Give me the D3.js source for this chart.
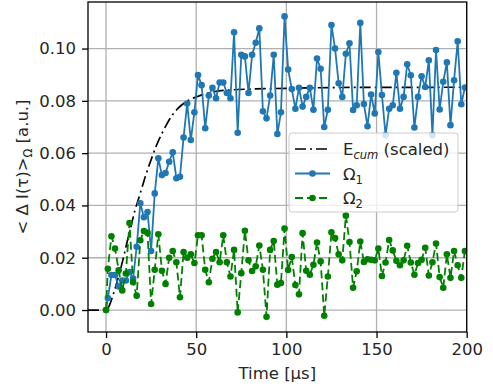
<!DOCTYPE html>
<html><head><meta charset="utf-8">
<script src="https://cdn.jsdelivr.net/npm/d3@7"></script>
<style>
body{margin:0;background:#fff}
svg{display:block}
text{font-family:"DejaVu Sans",sans-serif;fill:#262626}
</style>
</head><body>
<svg id="chart" width="493" height="391"></svg>
<script>
// ---- data ----
const times = [0].concat(d3.range(1, 200, 2)); // 0, 1, 3, ..., 199 µs
const omega1 = [0, 0.0046, 0.0134, 0.0134, 0.0090, 0.0113, 0.0113, 0.0145, 0.0120, 0.0242,
  0.0408, 0.0355, 0.0375, 0.0226, 0.0446, 0.0580, 0.0516, 0.0524, 0.0567, 0.0603,
  0.0504, 0.0510, 0.0660, 0.0790, 0.0650, 0.0756, 0.0899, 0.0860, 0.0695, 0.0820,
  0.0850, 0.0810, 0.0870, 0.0870, 0.0830, 0.0810, 0.1062, 0.0678, 0.0976, 0.0970,
  0.0830, 0.0976, 0.1022, 0.1077, 0.0760, 0.0733, 0.0820, 0.0976, 0.0673, 0.0756,
  0.1123, 0.0920, 0.0845, 0.0770, 0.0850, 0.0778, 0.0815, 0.0850, 0.0766, 0.0962,
  0.0923, 0.0700, 0.0766, 0.1090, 0.1000, 0.0867, 0.0815, 0.0980, 0.1020, 0.0765,
  0.0783, 0.1098, 0.0788, 0.0703, 0.0824, 0.0752, 0.0987, 0.0822, 0.0669, 0.0770,
  0.0783, 0.0907, 0.0770, 0.0815, 0.0940, 0.0898, 0.0698, 0.0815, 0.0894, 0.0853,
  0.0955, 0.0669, 0.0994, 0.0767, 0.0873, 0.0947, 0.0707, 0.0879, 0.1028, 0.0787,
  0.0851];
const omega2 = [0, 0.0158, 0.0282, 0.0235, 0.0152, 0.0075, 0.0140, 0.0333, 0.0106, 0.0055,
  0.0267, 0.0302, 0.0295, 0.0023, 0.0154, 0.0290, 0.0150, 0.0100, 0.0200, 0.0226,
  0.0183, 0.0049, 0.0222, 0.0200, 0.0213, 0.0180, 0.0286, 0.0286, 0.0154, 0.0106,
  0.0196, 0.0222, 0.0183, 0.0286, 0.0183, 0.0128, 0.0230, -0.0009, 0.0141, 0.0303,
  0.0190, 0.0149, 0.0167, 0.0247, 0.0154, -0.0026, 0.0230, 0.0264, 0.0097, 0.0103,
  0.0312, 0.0153, 0.0203, 0.0096, 0.0060, 0.0294, 0.0150, 0.0135, 0.0173, 0.0258,
  0.0186, -0.0022, 0.0128, 0.0297, 0.0275, 0.0213, 0.0190, 0.0361, 0.0260, 0.0085,
  0.0148, 0.0262, 0.0184, 0.0194, 0.0192, 0.0190, 0.0235, 0.0130, 0.0182, 0.0268,
  0.0228, 0.0188, 0.0171, 0.0190, 0.0246, 0.0182, 0.0135, 0.0180, 0.0192, 0.0238,
  0.0132, 0.0183, 0.0254, 0.0126, 0.0085, 0.0213, 0.0123, 0.0226, 0.0171, 0.0123,
  0.0226];
const ecumTimes = [-10, 0, 2, 4, 6, 8, 10, 12, 14, 16, 18, 20, 22, 25, 28, 31, 34, 37, 40, 43, 46, 50, 55, 60, 70, 80, 100, 130, 200];
const ecumValues = [0, 0, 0.002, 0.006, 0.0105, 0.0155, 0.021, 0.027, 0.0325, 0.038, 0.0425, 0.047, 0.0515, 0.0575, 0.063, 0.0675, 0.0715, 0.0748, 0.0772, 0.079, 0.0803, 0.0815, 0.0827, 0.0835, 0.0842, 0.0845, 0.0848, 0.0851, 0.0852];
const xTicks = [0, 50, 100, 150, 200];
const yTicks = [0, 0.02, 0.04, 0.06, 0.08, 0.10];
const yTickLabels = ["0.00", "0.02", "0.04", "0.06", "0.08", "0.10"];

// ---- layout ----
const L = 88, R = 466.7, T = 2, B = 332;
const svg = d3.select("#chart");
const x = d3.scaleLinear().domain([-10, 200]).range([L, R]);
const y = d3.scaleLinear().domain([-0.0084, 0.1178]).range([B, T]);
const FS = 16.5;

// grid
const grid = svg.append("g");
grid.selectAll("line.gx").data(xTicks).join("line")
  .attr("x1", d => x(d)).attr("x2", d => x(d)).attr("y1", T).attr("y2", B)
  .attr("stroke", "#b0b0b0").attr("stroke-width", 1.3);
grid.selectAll("line.gy").data(yTicks).join("line")
  .attr("y1", d => y(d)).attr("y2", d => y(d)).attr("x1", L).attr("x2", R)
  .attr("stroke", "#b0b0b0").attr("stroke-width", 1.3);

// clip
svg.append("clipPath").attr("id", "clip").append("rect")
  .attr("x", L).attr("y", T).attr("width", R - L).attr("height", B - T);
const plot = svg.append("g").attr("clip-path", "url(#clip)");

// E_cum
const ecum = ecumTimes.map((t, i) => [t, ecumValues[i]]);
plot.append("path").datum(ecum)
  .attr("d", d3.line().x(d => x(d[0])).y(d => y(d[1])).curve(d3.curveMonotoneX))
  .attr("fill", "none").attr("stroke", "#000").attr("stroke-width", 1.7)
  .attr("stroke-dasharray", "11,4,2,4");

function series(vals, color, dash) {
  const pts = times.map((t, i) => [t, vals[i]]);
  const g = plot.append("g");
  g.append("path").datum(pts)
    .attr("d", d3.line().x(d => x(d[0])).y(d => y(d[1])))
    .attr("fill", "none").attr("stroke", color).attr("stroke-width", 1.8)
    .attr("stroke-linejoin", "round")
    .attr("stroke-dasharray", dash);
  g.selectAll("circle").data(pts).join("circle")
    .attr("cx", d => x(d[0])).attr("cy", d => y(d[1])).attr("r", 3.3)
    .attr("fill", color);
}
series(omega1, "#1f77b4", null);
series(omega2, "#008000", "8,4");

// spines
svg.append("rect").attr("x", L).attr("y", T).attr("width", R - L).attr("height", B - T)
  .attr("fill", "none").attr("stroke", "#000").attr("stroke-width", 1.3);

// axes
const xAxis = svg.append("g").attr("transform", `translate(0,${B})`)
  .call(d3.axisBottom(x).tickValues(xTicks).tickSize(6).tickPadding(5).tickFormat(d3.format("d")));
const yAxis = svg.append("g").attr("transform", `translate(${L},0)`)
  .call(d3.axisLeft(y).tickValues(yTicks).tickSize(6).tickPadding(6).tickFormat((d, i) => yTickLabels[i]));
[xAxis, yAxis].forEach(a => {
  a.select(".domain").remove();
  a.selectAll(".tick line").attr("stroke", "#000").attr("stroke-width", 1.3);
  a.selectAll(".tick text").attr("font-size", FS).attr("font-family", "DejaVu Sans").attr("fill", "#262626");
});

// axis labels
svg.append("text").attr("x", (L + R) / 2).attr("y", 379).attr("text-anchor", "middle")
  .attr("font-size", FS).text("Time [µs]");
const yl = svg.append("text").attr("transform", `translate(28,${(T + B) / 2}) rotate(-90)`)
  .attr("text-anchor", "middle").attr("font-size", FS);
yl.append("tspan").text("< Δ I(τ)>");
yl.append("tspan").attr("font-size", FS * 0.7).attr("dy", 4).text("Ω");
yl.append("tspan").attr("dy", -4).text(" [a.u.]");

// legend
const lg = svg.append("g");
lg.append("rect").attr("x", 289).attr("y", 133).attr("width", 169).attr("height", 79)
  .attr("rx", 3).attr("fill", "#fff").attr("fill-opacity", 0.8)
  .attr("stroke", "#cccccc").attr("stroke-width", 1);
const rows = [
  {label: "E", sub: "cum", extra: " (scaled)", color: "#000", dash: "11,4,2,4", marker: false},
  {label: "Ω", sub: "1", extra: "", color: "#1f77b4", dash: null, marker: true},
  {label: "Ω", sub: "2", extra: "", color: "#008000", dash: "8,4", marker: true}
];
const rowY = [149, 173.5, 198];
rows.forEach((r, i) => {
  const yy = rowY[i];
  lg.append("line").attr("x1", 295).attr("x2", 330).attr("y1", yy).attr("y2", yy)
    .attr("stroke", r.color).attr("stroke-width", r.marker ? 1.8 : 1.7)
    .attr("stroke-dasharray", r.dash);
  if (r.marker) lg.append("circle").attr("cx", 312.5).attr("cy", yy).attr("r", 3.3).attr("fill", r.color);
  const t = lg.append("text").attr("x", 343).attr("y", yy + 6).attr("font-size", FS);
  t.append("tspan").text(r.label);
  const s = t.append("tspan").attr("font-size", FS * 0.7).attr("dy", 4).text(r.sub);
  if (r.sub === "cum") s.attr("font-style", "italic");
  if (r.extra) t.append("tspan").attr("dy", -4).text(r.extra);
});
</script>
</body></html>
